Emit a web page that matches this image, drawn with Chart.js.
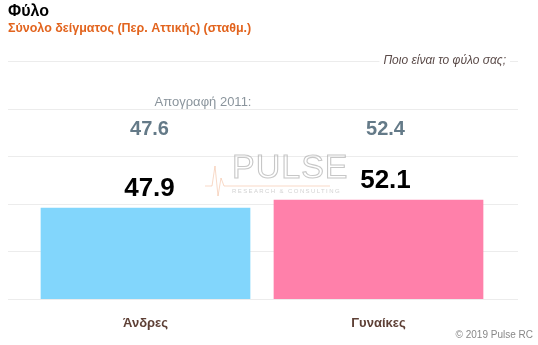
<!DOCTYPE html>
<html>
<head>
<meta charset="utf-8">
<script src="https://cdn.jsdelivr.net/npm/chart.js@4/dist/chart.umd.min.js"></script>
<style>
  html, body { margin: 0; padding: 0; background: #fff; }
  #wrap { width: 538px; height: 345px; position: relative; }
</style>
</head>
<body>
<div id="wrap"><canvas id="myChart" width="538" height="345"></canvas></div>
<script>
const categories = ["Άνδρες", "Γυναίκες"];
const sampleValues = [47.9, 52.1];
const censusValues = [47.6, 52.4];
const gridValues = [0, 25, 50, 75, 100, 125];
const barColors = ["#82d6fc", "#ff80aa"];

const titleText = "Φύλο";
const subtitleText = "Σύνολο δείγματος (Περ. Αττικής) (σταθμ.)";
const questionText = "Ποιο είναι το φύλο σας;";
const censusLabel = "Απογραφή 2011:";
const creditText = "© 2019 Pulse RC";

const FONT = "Arial, 'Liberation Sans', sans-serif";

// grid lines run across the whole width, wider than the bars' area
const gridLines = {
  id: "gridLines",
  beforeDatasetsDraw(chart) {
    const ctx = chart.ctx;
    const y = chart.scales.y;
    ctx.save();
    ctx.strokeStyle = "#ececec";
    ctx.lineWidth = 1;
    gridValues.forEach(v => {
      const py = Math.round(y.getPixelForValue(v)) + 0.5;
      ctx.beginPath();
      ctx.moveTo(8, py);
      ctx.lineTo(518, py);
      ctx.stroke();
    });
    ctx.restore();
  }
};

const watermark = {
  id: "watermark",
  beforeDatasetsDraw(chart) {
    const ctx = chart.ctx;
    ctx.save();
    ctx.textAlign = "left";
    ctx.textBaseline = "alphabetic";
    ctx.strokeStyle = "rgba(175,175,175,0.7)";
    ctx.lineWidth = 1.1;
    ctx.letterSpacing = "1px";
    ctx.font = "34px " + FONT;
    ctx.strokeText("PULSE", 232, 178);
    ctx.letterSpacing = "1.4px";
    ctx.fillStyle = "rgba(180,180,180,0.6)";
    ctx.font = "6px " + FONT;
    ctx.fillText("RESEARCH & CONSULTING", 232, 193);
    ctx.strokeStyle = "rgba(240,170,130,0.45)";
    ctx.lineWidth = 1;
    ctx.beginPath();
    ctx.moveTo(205, 186);
    ctx.lineTo(212, 186);
    ctx.lineTo(215, 166);
    ctx.lineTo(218, 196);
    ctx.lineTo(221, 178);
    ctx.lineTo(224, 186);
    ctx.lineTo(330, 186);
    ctx.stroke();
    ctx.restore();
  }
};

const texts = {
  id: "texts",
  afterDraw(chart) {
    const ctx = chart.ctx;
    const x = chart.scales.x;
    const y = chart.scales.y;
    ctx.save();
    ctx.textBaseline = "middle";

    ctx.textAlign = "left";
    ctx.fillStyle = "#000";
    ctx.font = "bold 16px " + FONT;
    ctx.fillText(titleText, 8, 12);
    ctx.fillStyle = "#e2641e";
    ctx.font = "bold 12.5px " + FONT;
    ctx.fillText(subtitleText, 8, 29);

    // question sits on the top grid line
    ctx.font = "italic 12px " + FONT;
    const qw = ctx.measureText(questionText).width;
    ctx.fillStyle = "#fff";
    ctx.fillRect(506 - qw - 4, 54, qw + 8, 14);
    ctx.fillStyle = "#5a4a48";
    ctx.textAlign = "right";
    ctx.fillText(questionText, 506, 61);

    ctx.fillStyle = "#8a949c";
    ctx.font = "13px " + FONT;
    ctx.textAlign = "center";
    ctx.fillText(censusLabel, 203, 102);

    categories.forEach((c, i) => {
      const px = x.getPixelForValue(i) + 4 + i * 3;
      ctx.fillStyle = "#647a88";
      ctx.font = "bold 20px " + FONT;
      ctx.fillText(censusValues[i].toFixed(1), px, 129);
      ctx.fillStyle = "#000";
      ctx.font = "bold 26px " + FONT;
      ctx.fillText(sampleValues[i].toFixed(1), px, y.getPixelForValue(sampleValues[i]) - 19);
      ctx.fillStyle = "#5e4036";
      ctx.font = "bold 13px " + FONT;
      ctx.fillText(c, x.getPixelForValue(i), 323);
    });

    ctx.fillStyle = "#888";
    ctx.font = "10px " + FONT;
    ctx.textAlign = "right";
    ctx.fillText(creditText, 533, 335);
    ctx.restore();
  }
};

const ctx = document.getElementById("myChart").getContext("2d");

new Chart(ctx, {
  type: "bar",
  data: {
    labels: categories,
    datasets: [{
      data: sampleValues,
      backgroundColor: barColors,
      borderWidth: 0,
      categoryPercentage: 0.9,
      barPercentage: 1
    }]
  },
  options: {
    responsive: false,
    animation: false,
    layout: { padding: { left: 29, right: 43, top: 61, bottom: 46 } },
    plugins: {
      legend: { display: false },
      tooltip: { enabled: false }
    },
    scales: {
      x: { display: false },
      y: { display: false, min: 0, max: 125 }
    }
  },
  plugins: [gridLines, watermark, texts]
});
</script>
</body>
</html>
